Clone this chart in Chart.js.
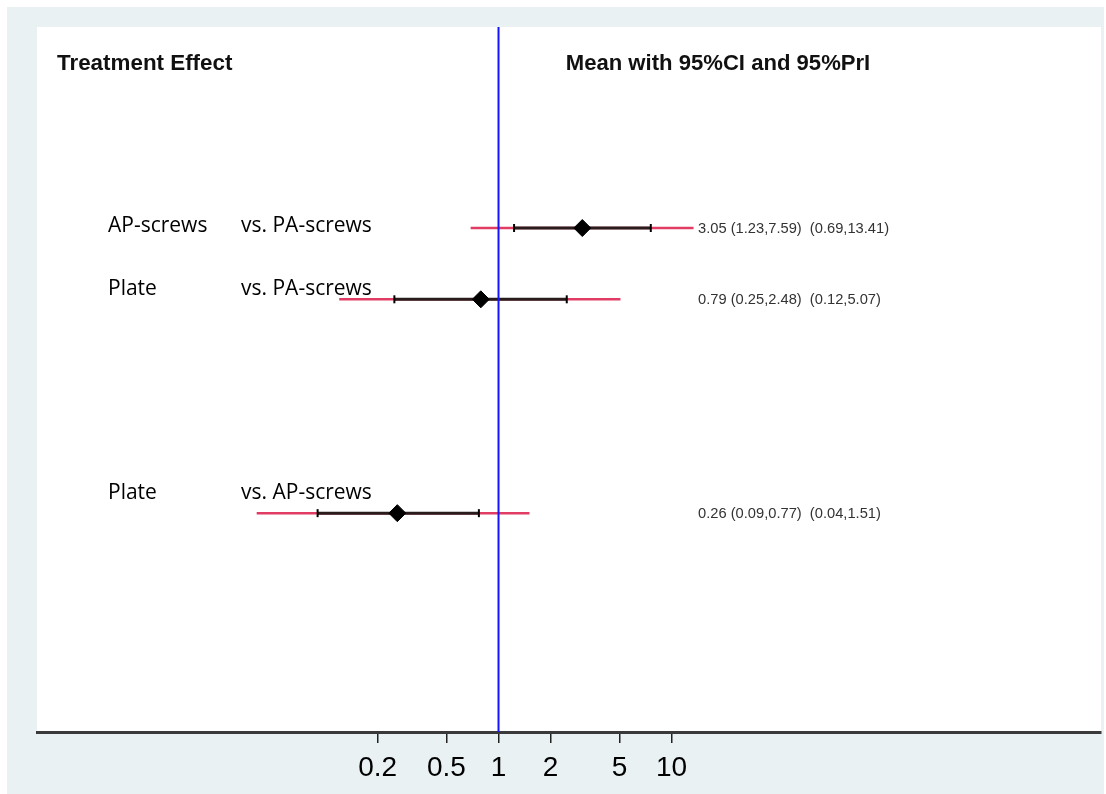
<!DOCTYPE html>
<html>
<head>
<meta charset="utf-8">
<script src="https://cdn.jsdelivr.net/npm/chart.js@4/dist/chart.umd.min.js"></script>
<style>
html,body{margin:0;padding:0;background:#ffffff;}
#wrap{width:1106px;height:794px;position:relative;}
</style>
</head>
<body>
<div id="wrap"><canvas id="c" width="1106" height="794"></canvas></div>
<script>
// ---- data ----
const treatments = ['AP-screws', 'Plate', 'Plate'];
const comparators = ['vs. PA-screws', 'vs. PA-screws', 'vs. AP-screws'];
const rowPositions = [3, 4, 7];
const means = [3.05, 0.79, 0.26];
const ciLow = [1.23, 0.25, 0.09];
const ciHigh = [7.59, 2.48, 0.77];
const priLow = [0.69, 0.12, 0.04];
const priHigh = [13.41, 5.07, 1.51];
const xTickValues = [0.2, 0.5, 1, 2, 5, 10];
const nullEffect = 1;
const leftTitle = 'Treatment Effect';
const rightTitle = 'Mean with 95%CI and 95%PrI';

const X_MIN = 0.002148, X_MAX = 3040;
const Y_MIN = 0.18, Y_MAX = 10.07;

const RED = '#e03c64';
const DARK = '#2a1c1c';

const datasets = [];
// reference line (drawn on top -> first)
datasets.push({
  type: 'line',
  data: [{x: nullEffect, y: Y_MIN}, {x: nullEffect, y: Y_MAX}],
  borderColor: '#1414ff', borderWidth: 2, pointRadius: 0, fill: false
});
// means
datasets.push({
  type: 'scatter',
  data: means.map((m, i) => ({x: m, y: rowPositions[i]})),
  pointStyle: 'rectRot', pointRadius: 8.5, backgroundColor: '#000', borderColor: '#000', borderWidth: 1
});
// CI segments
means.forEach((m, i) => {
  datasets.push({
    type: 'line',
    data: [{x: ciLow[i], y: rowPositions[i]}, {x: ciHigh[i], y: rowPositions[i]}],
    borderColor: DARK, borderWidth: 3,
    pointStyle: 'line', rotation: 90, pointRadius: 4, pointBorderWidth: 2,
    pointBorderColor: '#000', fill: false
  });
});
// PrI segments
means.forEach((m, i) => {
  datasets.push({
    type: 'line',
    data: [{x: priLow[i], y: rowPositions[i]}, {x: priHigh[i], y: rowPositions[i]}],
    borderColor: RED, borderWidth: 2.5, pointRadius: 0, fill: false
  });
});

const decor = {
  id: 'decor',
  beforeDraw(chart) {
    const ctx = chart.ctx, a = chart.chartArea;
    ctx.save();
    ctx.fillStyle = '#ffffff';
    ctx.fillRect(0, 0, chart.width, chart.height);
    ctx.fillStyle = '#e9f1f3';
    ctx.fillRect(7, 7, 1097, 787);
    ctx.fillStyle = '#ffffff';
    ctx.fillRect(a.left, a.top, a.right - a.left, a.bottom - a.top);
    ctx.restore();
  },
  afterDraw(chart) {
    const ctx = chart.ctx, ys = chart.scales.y;
    ctx.save();
    ctx.fillStyle = '#111';
    ctx.textBaseline = 'middle';
    ctx.font = 'bold 22.4px "Liberation Sans", Arial, sans-serif';
    ctx.textAlign = 'left';
    ctx.fillText(leftTitle, 57, 64);
    ctx.font = 'bold 22.1px "Liberation Sans", Arial, sans-serif';
    ctx.textAlign = 'center';
    ctx.fillText(rightTitle, 718, 64);

    const labelOffsets = [4, -4, -14];
    ctx.textAlign = 'left';
    ctx.textBaseline = 'alphabetic';
    ctx.font = '21px "Open Sans", sans-serif';
    ctx.fillStyle = '#000';
    rowPositions.forEach((r, i) => {
      const py = ys.getPixelForValue(r);
      ctx.fillText(treatments[i], 108, py + labelOffsets[i]);
      ctx.fillText(comparators[i], 241, py + labelOffsets[i]);
    });

    ctx.font = '14.7px "Liberation Sans", Arial, sans-serif';
    ctx.fillStyle = '#333';
    ctx.textBaseline = 'middle';
    rowPositions.forEach((r, i) => {
      const py = ys.getPixelForValue(r);
      const s = means[i].toFixed(2) + ' (' + ciLow[i].toFixed(2) + ',' + ciHigh[i].toFixed(2) + ')  (' +
        priLow[i].toFixed(2) + ',' + priHigh[i].toFixed(2) + ')';
      ctx.fillText(s, 698, py + 1);
    });
    ctx.restore();
  }
};

new Chart(document.getElementById('c'), {
  data: {datasets},
  options: {
    responsive: false,
    animation: false,
    devicePixelRatio: 1,
    layout: {autoPadding: false, padding: {left: 37, right: 5, top: 27, bottom: 0}},
    plugins: {legend: {display: false}, tooltip: {enabled: false}},
    scales: {
      x: {
        type: 'logarithmic',
        min: X_MIN, max: X_MAX,
        afterBuildTicks(s) { s.ticks = xTickValues.map(v => ({value: v})); },
        afterFit(s) { s.height = 62; },
        ticks: {
          color: '#000', padding: 8, maxRotation: 0, autoSkip: false,
          font: {family: '"Liberation Sans", Arial, sans-serif', size: 28},
          callback: (v) => String(v)
        },
        grid: {drawOnChartArea: false, drawTicks: true, tickLength: 11, color: '#222', lineWidth: 1.5},
        border: {display: true, color: '#3a3a3a', width: 3}
      },
      y: {
        type: 'linear', display: false, reverse: true, min: Y_MIN, max: Y_MAX
      }
    }
  },
  plugins: [decor]
});
</script>
</body>
</html>
